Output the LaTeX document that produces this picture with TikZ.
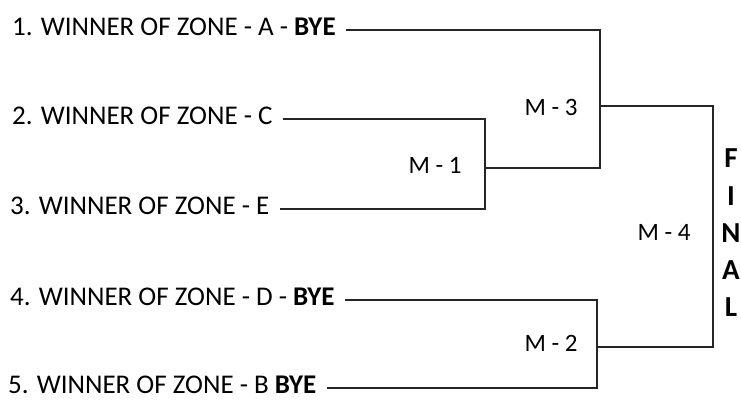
\documentclass[tikz,border=0pt]{standalone}
\usepackage{fontspec}
\setmainfont{Carlito}
\usepackage{tikz}

\begin{document}
\begin{tikzpicture}[
  x=1pt, y=-1pt,
  team/.style={anchor=west, inner xsep=10pt, inner ysep=2pt, yshift=3pt, font=\fontsize{27}{30}\selectfont},
  match/.style={font=\fontsize{25}{28}\selectfont},
  letter/.style={font=\fontsize{29}{30}\selectfont\bfseries, inner sep=0pt},
  line/.style={draw=black!85, line width=1.6pt}
]
\useasboundingbox (0,0) rectangle (741,403);

\node[team] (t1) at (2,30) {1. WINNER OF ZONE - A - \textbf{BYE}};
\node[team] (t2) at (2,119) {2. WINNER OF ZONE - C};
\node[team] (t3) at (0,209) {3. WINNER OF ZONE - E};
\node[team] (t4) at (0,300) {4. WINNER OF ZONE - D - \textbf{BYE}};
\node[team] (t5) at (-2,388) {5. WINNER OF ZONE - B \textbf{BYE}};

\coordinate (j1) at (485,168);
\coordinate (j3) at (600,106);
\coordinate (j2) at (597,347);
\coordinate (jf) at (713,228);

\node[match] (m1) at (435,165) {M - 1};
\node[match] (m3) at (551,107) {M - 3};
\node[match] (m2) at (551,343) {M - 2};
\node[match] (m4) at (664,232) {M - 4};

\node[letter] (f1) at (731,158) {F};
\node[letter] (f2) at (731,196) {I};
\node[letter] (f3) at (731,233) {N};
\node[letter] (f4) at (731,270) {A};
\node[letter] (f5) at (731,307) {L};

\draw[line] ([yshift=-3pt]t2.east) -| (j1);
\draw[line] ([yshift=-3pt]t3.east) -| (j1);
\draw[line] ([yshift=-3pt]t1.east) -| (j3);
\draw[line] (j1) -| (j3);
\draw[line] ([yshift=-3pt]t4.east) -| (j2);
\draw[line] ([yshift=-3pt]t5.east) -| (j2);
\draw[line] (j3) -| (jf);
\draw[line] (j2) -| (jf);

\end{tikzpicture}
\end{document}
